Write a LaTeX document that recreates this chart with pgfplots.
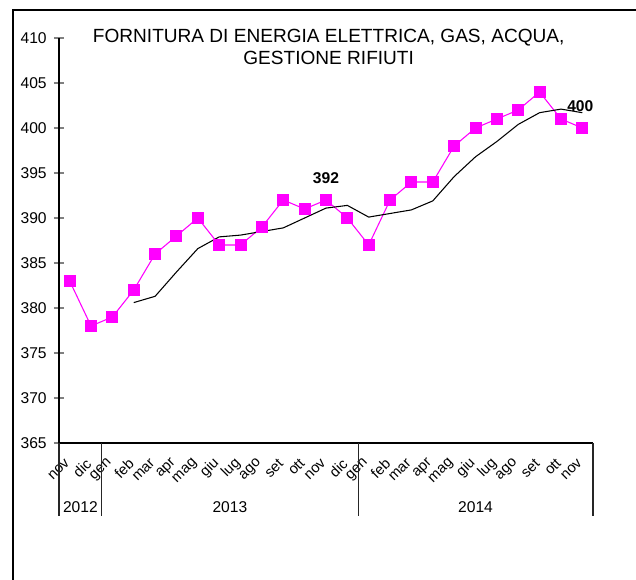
\documentclass[border=0pt]{standalone}
\usepackage{pgfplots}
\pgfplotsset{compat=1.18}
\usepackage{fontspec}
\setmainfont{Liberation Sans}
\definecolor{serie}{RGB}{255,0,255}
\begin{document}
\begin{tikzpicture}
\useasboundingbox (0,0) rectangle (477pt,435pt);
% cornice esterna (solo lati sinistro e superiore visibili)
\draw[line width=0.8pt] (9.75pt,0) -- (9.75pt,427.5pt) -- (477pt,427.5pt);
% titolo
\node[align=center, font=\fontsize{14.3}{16.5}\selectfont, anchor=center] at (246.5pt,400pt)
  {FORNITURA DI ENERGIA ELETTRICA, GAS, ACQUA,\\GESTIONE RIFIUTI};
\begin{axis}[
    at={(44.25pt,102.75pt)}, anchor=south west,
    scale only axis,
    width=400.5pt, height=303.75pt,
    xmin=-0.5, xmax=24.5,
    ymin=365, ymax=410,
    ytick={365,370,...,410},
    xtick={0,...,24},
    xticklabels={nov,dic,gen,feb,mar,apr,mag,giu,lug,ago,set,ott,nov,dic,gen,feb,mar,apr,mag,giu,lug,ago,set,ott,nov},
    axis x line*=bottom,
    axis y line*=left,
    axis line style={line width=1pt},
    tick align=center,
    major tick length=7.5pt,
    ytick style={line width=1pt},
    xtick style={draw=none},
    /pgf/number format/assume math mode=true,
    yticklabel style={font=\fontsize{11.7}{13}\selectfont, xshift=-2pt},
    xticklabel style={font=\fontsize{11}{13}\selectfont, xshift=-1pt, yshift=-9pt, rotate=45, anchor=east, inner sep=1pt},
    clip=false,
]
\addplot[color=serie, line width=0.8pt, mark=square*, mark size=4.1pt, mark options={fill=serie, draw=serie}] coordinates {
(0,383) (1,378) (2,379) (3,382) (4,386) (5,388) (6,390) (7,387) (8,387) (9,389)
(10,392) (11,391) (12,392) (13,390) (14,387) (15,392) (16,394) (17,394) (18,398)
(19,400) (20,401) (21,402) (22,404) (23,401) (24,400)
};
% media mobile
\addplot[color=black, line width=0.8pt, mark=none] coordinates {
(3,380.6) (4,381.3) (5,384.0) (6,386.6) (7,387.9) (8,388.1) (9,388.5) (10,388.9)
(11,390.0) (12,391.1) (13,391.4) (14,390.1) (15,390.5) (16,390.9) (17,391.9)
(18,394.6) (19,396.8) (20,398.5) (21,400.4) (22,401.7) (23,402.1) (24,401.7)
};
\node[font=\fontsize{11.7}{13}\selectfont\bfseries] at (axis cs:12,392) [yshift=16.5pt] {392};
\node[font=\fontsize{11.7}{13}\selectfont\bfseries] at (axis cs:24,400) [yshift=16.5pt, xshift=-1.5pt] {400};
% separatori anni
\draw[line width=0.8pt, black!85] (axis cs:-0.5,365) -- ([yshift=-54.75pt]axis cs:-0.5,365);
\draw[line width=0.8pt, black!85] (axis cs:1.5,365) -- ([yshift=-54.75pt]axis cs:1.5,365);
\draw[line width=0.8pt, black!85] (axis cs:13.5,365) -- ([yshift=-54.75pt]axis cs:13.5,365);
\draw[line width=0.8pt, black!85] (axis cs:24.5,365) -- ([yshift=-54.75pt]axis cs:24.5,365);
\node[font=\fontsize{11.7}{13}\selectfont] at (axis cs:0.5,365) [yshift=-48pt] {2012};
\node[font=\fontsize{11.7}{13}\selectfont] at (axis cs:7.5,365) [yshift=-48pt] {2013};
\node[font=\fontsize{11.7}{13}\selectfont] at (axis cs:19,365) [yshift=-48pt] {2014};
\end{axis}
\end{tikzpicture}
\end{document}
